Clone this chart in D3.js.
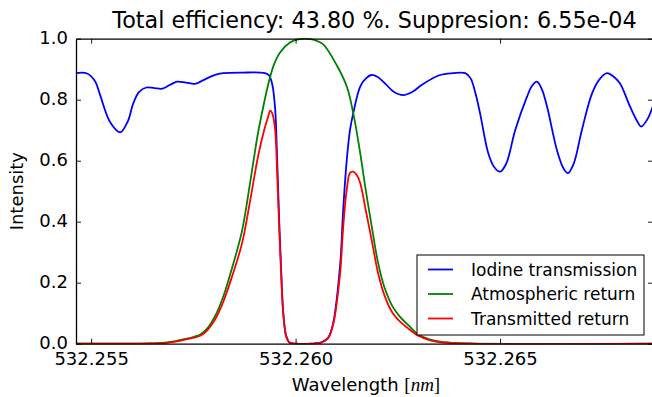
<!DOCTYPE html>
<html>
<head>
<meta charset="utf-8">
<script src="https://cdn.jsdelivr.net/npm/d3@7"></script>
<style>
  body { margin: 0; background: #fff; }
  svg { display: block; }
  text { font-family: "DejaVu Sans", sans-serif; fill: #000; }
</style>
</head>
<body>
<svg id="chart" width="652" height="397"></svg>
<script>
// wavelength [nm] / intensity pairs
const iodineWl = [532.25463, 532.25490, 532.25510, 532.25522, 532.25547, 532.25571, 532.25590, 532.25603,
    532.25617, 532.25635, 532.25655, 532.25674, 532.25692, 532.25710, 532.25732, 532.25754, 532.25776,
    532.25800, 532.25823, 532.25870, 532.25925, 532.25935, 532.25943, 532.25950, 532.25955, 532.25960,
    532.25965, 532.25970, 532.25977, 532.25985, 532.26000, 532.26040, 532.26065, 532.26080, 532.26092,
    532.26109, 532.26116, 532.26125, 532.26133, 532.26141, 532.26158, 532.26172, 532.26185, 532.26200,
    532.26221, 532.26240, 532.26263, 532.26285, 532.26310, 532.26353, 532.26385, 532.26415, 532.26428,
    532.26440, 532.26451, 532.26471, 532.26485, 532.26500, 532.26515, 532.26537, 532.26566, 532.26578,
    532.26590, 532.26602, 532.26615, 532.26639, 532.26655, 532.26666, 532.26680, 532.26700, 532.26725,
    532.26745, 532.26762, 532.26778, 532.26793, 532.26818, 532.26835, 532.26845, 532.26860, 532.26874];
const iodineT = [0.887, 0.886, 0.860, 0.815, 0.725, 0.693, 0.730, 0.788,
    0.825, 0.840, 0.838, 0.836, 0.848, 0.859, 0.856, 0.852, 0.865,
    0.880, 0.887, 0.889, 0.887, 0.880, 0.850, 0.770, 0.600, 0.400,
    0.230, 0.100, 0.025, 0.004, 0.000, 0.000, 0.005, 0.020, 0.068,
    0.260, 0.430, 0.600, 0.700, 0.756, 0.843, 0.870, 0.881, 0.875,
    0.850, 0.826, 0.815, 0.825, 0.850, 0.881, 0.887, 0.887, 0.870,
    0.820, 0.756, 0.625, 0.580, 0.564, 0.590, 0.700, 0.810, 0.845,
    0.859, 0.835, 0.777, 0.635, 0.575, 0.559, 0.590, 0.700, 0.821,
    0.870, 0.887, 0.875, 0.854, 0.777, 0.730, 0.712, 0.735, 0.780];

const atmoWl = [532.25463, 532.25644, 532.25686, 532.25725, 532.25767, 532.25784, 532.25803, 532.25823,
    532.25845, 532.25869, 532.25889, 532.25908, 532.25923, 532.25933, 532.25947, 532.25962, 532.25987,
    532.26006, 532.26026, 532.26046, 532.26067, 532.26101, 532.26126, 532.26143, 532.26158, 532.26172,
    532.26187, 532.26201, 532.26218, 532.26238, 532.26255, 532.26280, 532.26300, 532.26329, 532.26361,
    532.26427, 532.26874];
const atmoI = [0.000, 0.001, 0.004, 0.014, 0.030, 0.050, 0.090, 0.154,
    0.250, 0.370, 0.530, 0.690, 0.790, 0.850, 0.915, 0.955, 0.988,
    0.998, 1.000, 0.996, 0.982, 0.912, 0.840, 0.742, 0.625, 0.500,
    0.378, 0.270, 0.182, 0.120, 0.089, 0.055, 0.030, 0.013, 0.005,
    0.001, 0.000];

const transWl = [532.25463, 532.25644, 532.25686, 532.25725, 532.25767, 532.25784, 532.25803, 532.25823,
    532.25845, 532.25869, 532.25889, 532.25908, 532.25923, 532.25933, 532.25938, 532.25943, 532.25950,
    532.25955, 532.25960, 532.25965, 532.25970, 532.25977, 532.25985, 532.26000, 532.26040, 532.26065,
    532.26080, 532.26092, 532.26109, 532.26116, 532.26125, 532.26133, 532.26141, 532.26150, 532.26158,
    532.26172, 532.26187, 532.26201, 532.26218, 532.26238, 532.26255, 532.26280, 532.26300, 532.26329,
    532.26361, 532.26427, 532.26874];
const transI = [0.000, 0.001, 0.003, 0.012, 0.026, 0.044, 0.079, 0.137,
    0.222, 0.329, 0.470, 0.613, 0.700, 0.745, 0.764, 0.755, 0.700,
    0.555, 0.374, 0.217, 0.095, 0.024, 0.004, 0.000, 0.000, 0.005,
    0.019, 0.064, 0.233, 0.374, 0.504, 0.560, 0.564, 0.552, 0.527,
    0.435, 0.333, 0.236, 0.156, 0.099, 0.073, 0.045, 0.026, 0.011,
    0.004, 0.000, 0.000];

const xTicks = [532.255, 532.260, 532.265];
const yTicks = [0.0, 0.2, 0.4, 0.6, 0.8, 1.0];
const seriesNames = ["Iodine transmission", "Atmospheric return", "Transmitted return"];
const seriesColors = ["#0000ff", "#008000", "#ff0000"];
const titleText = "Total efficiency: 43.80 %. Suppresion: 6.55e-04";

const plot = { left: 76, right: 653, top: 38.7, bottom: 343.7 };

const svg = d3.select("#chart");

const x = d3.scaleLinear().domain([532.25463, 532.26874]).range([plot.left, plot.right]);
const y = d3.scaleLinear().domain([0, 1]).range([plot.bottom, plot.top]);

svg.append("clipPath").attr("id", "clip")
    .append("rect")
    .attr("x", plot.left).attr("y", plot.top - 1)
    .attr("width", plot.right - plot.left).attr("height", plot.bottom - plot.top + 1.5);

const series = [
    d3.zip(iodineWl, iodineT),
    d3.zip(atmoWl, atmoI),
    d3.zip(transWl, transI)
];

const line = d3.line()
    .x(d => x(d[0]))
    .y(d => y(d[1]))
    .curve(d3.curveCatmullRom.alpha(0.5));

const lines = svg.append("g").attr("clip-path", "url(#clip)");
series.forEach((s, i) => {
    lines.append("path")
        .datum(s)
        .attr("fill", "none")
        .attr("stroke", seriesColors[i])
        .attr("stroke-width", 1.8)
        .attr("stroke-linejoin", "round")
        .attr("d", line);
});

// axes, classic style: ticks pointing inward on all four sides
const styleAxis = (g) => {
    g.select(".domain").attr("stroke", "#000").attr("stroke-width", 1.3);
    g.selectAll(".tick line").attr("stroke", "#000").attr("stroke-width", 0.9);
    g.selectAll(".tick text").attr("font-size", 18).attr("font-family", "DejaVu Sans").attr("fill", "#000");
};

svg.append("g")
    .attr("transform", `translate(0,${plot.bottom})`)
    .call(d3.axisBottom(x).tickValues(xTicks).tickFormat(d3.format(".3f"))
        .tickSizeInner(-5).tickSizeOuter(0).tickPadding(8.5))
    .call(styleAxis);

svg.append("g")
    .attr("transform", `translate(0,${plot.top})`)
    .call(d3.axisTop(x).tickValues(xTicks).tickFormat("").tickSizeInner(-5).tickSizeOuter(0))
    .call(styleAxis);

svg.append("g")
    .attr("transform", `translate(${plot.left},0)`)
    .call(d3.axisLeft(y).tickValues(yTicks).tickFormat(d3.format(".1f"))
        .tickSizeInner(-5).tickSizeOuter(0).tickPadding(8))
    .call(styleAxis)
    .call(g => g.selectAll(".tick text").attr("dy", "0.25em"));

svg.append("g")
    .attr("transform", `translate(${plot.right},0)`)
    .call(d3.axisRight(y).tickValues(yTicks).tickFormat("").tickSizeInner(-5).tickSizeOuter(0))
    .call(styleAxis);

// title
svg.append("text")
    .attr("x", 374.5).attr("y", 28)
    .attr("text-anchor", "middle")
    .attr("font-size", 22.3)
    .text(titleText);

// x label with math-style [nm]
const xl = svg.append("text")
    .attr("x", 366).attr("y", 391)
    .attr("text-anchor", "middle")
    .attr("font-size", 18);
xl.append("tspan").text("Wavelength ");
xl.append("tspan").attr("font-family", "Liberation Serif").attr("font-size", 19).text("[");
xl.append("tspan").attr("font-family", "Liberation Serif").attr("font-style", "italic").attr("font-size", 19).text("nm");
xl.append("tspan").attr("font-family", "Liberation Serif").attr("font-size", 19).text("]");

// y label
svg.append("text")
    .attr("transform", `translate(22.5,${(plot.top + plot.bottom) / 2}) rotate(-90)`)
    .attr("text-anchor", "middle")
    .attr("font-size", 18)
    .text("Intensity");

// legend, lower right
const legend = svg.append("g");
legend.append("rect")
    .attr("x", 417).attr("y", 255)
    .attr("width", 227).attr("height", 80)
    .attr("fill", "#fff").attr("stroke", "#000").attr("stroke-width", 1);

seriesNames.forEach((name, i) => {
    const ly = 269.5 + i * 24.5;
    legend.append("line")
        .attr("x1", 428).attr("x2", 453)
        .attr("y1", ly).attr("y2", ly)
        .attr("stroke", seriesColors[i]).attr("stroke-width", 1.8);
    legend.append("text")
        .attr("x", 471).attr("y", ly)
        .attr("dominant-baseline", "central")
        .attr("font-size", 17)
        .text(name);
});
</script>
</body>
</html>
